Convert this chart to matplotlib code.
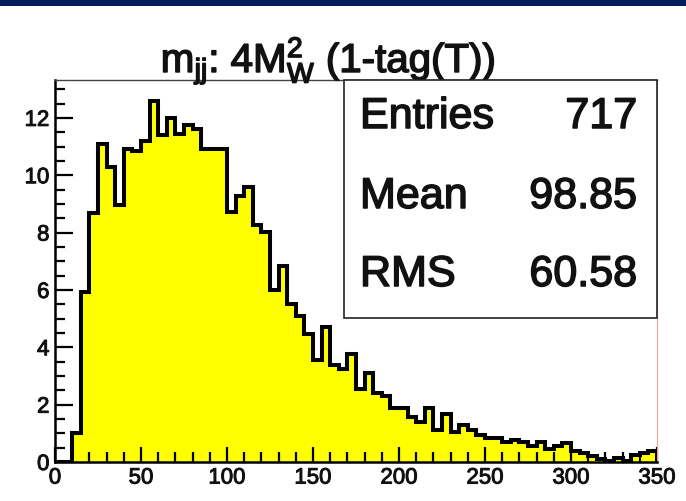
import numpy as np
import matplotlib
matplotlib.use("Agg")
import matplotlib.pyplot as plt
import matplotlib.patheffects as pe
from matplotlib.patches import Rectangle
from matplotlib.ticker import MultipleLocator

plt.rcParams["font.family"] = ["Liberation Sans", "DejaVu Sans"]
plt.rcParams["mathtext.fontset"] = "custom"
plt.rcParams["mathtext.rm"] = "Liberation Sans"
plt.rcParams["mathtext.it"] = "Liberation Sans:italic"
plt.rcParams["mathtext.bf"] = "Liberation Sans:bold"

# m_jj histogram, 70 bins of 5 GeV from 0 to 350
bin_edges = np.linspace(0, 350, 71)
counts = [
    0.00, 0.00, 1.00, 5.93, 8.68, 11.10, 10.30, 8.95, 10.93, 10.83,
    11.18, 12.59, 11.40, 12.00, 11.45, 11.76, 11.60, 10.93, 10.93, 10.93,
    8.72, 9.27, 9.60, 8.26, 8.02, 5.99, 6.83, 5.50, 5.10, 4.45,
    3.56, 4.69, 3.38, 3.26, 3.76, 2.54, 3.12, 2.42, 2.31, 1.87,
    1.87, 1.58, 1.40, 1.90, 1.11, 1.69, 1.06, 1.29, 1.11, 0.94,
    0.85, 0.85, 0.70, 0.75, 0.70, 0.55, 0.70, 0.45, 0.55, 0.65,
    0.38, 0.30, 0.20, 0.10, 0.05, 0.15, 0.05, 0.25, 0.30, 0.40,
]
title = r"m$_{\mathrm{jj}}$: 4M$_{\mathrm{W}}^{\mathrm{2}}$ (1-tag(T))"
stat_names = ["Entries", "Mean", "RMS"]
stat_values = ["717", "98.85", "60.58"]
x_ticks = [0, 50, 100, 150, 200, 250, 300, 350]
y_ticks = [0, 2, 4, 6, 8, 10, 12]

W, H = 686, 501
fig = plt.figure(figsize=(W / 100, H / 100), dpi=100)
fig.patch.set_facecolor("white")

def fx(px):
    return px / W

def fy(py):
    return 1 - py / H

ink = "#111111"
heavy = [pe.withStroke(linewidth=1.1, foreground=ink)]
heavy_small = [pe.withStroke(linewidth=0.7, foreground=ink)]

# navy header strip
navy = "#001c5a"
fig.add_artist(Rectangle((0, fy(6)), 1, 6 / H, transform=fig.transFigure,
                         facecolor=navy, edgecolor="none"))

ax_l, ax_r, ax_t, ax_b = 55, 657, 80, 462
ax = fig.add_axes([fx(ax_l), fy(ax_b), fx(ax_r - ax_l), (ax_b - ax_t) / H])
ax.set_xlim(0, 350)
ax.set_ylim(0, 13.32)

ax.stairs(counts, bin_edges, fill=True, facecolor="#ffff00", edgecolor="none", zorder=1)
ax.stairs(counts, bin_edges, baseline=0, color="black", linewidth=2.9, zorder=1.5)

ax.set_xticks(x_ticks)
ax.set_yticks(y_ticks)
ax.xaxis.set_minor_locator(MultipleLocator(10))
ax.yaxis.set_minor_locator(MultipleLocator(0.5))
ax.tick_params(axis="both", which="both", direction="in", color="black",
               top=False, right=False)
ax.tick_params(axis="x", which="major", length=11, width=1.6, pad=4)
ax.tick_params(axis="x", which="minor", length=7, width=1.6)
ax.tick_params(axis="y", which="major", length=13, width=1.6, pad=4)
ax.tick_params(axis="y", which="minor", length=7.5, width=1.6)
for lab in ax.get_xticklabels() + ax.get_yticklabels():
    lab.set_fontsize(16)
    lab.set_color(ink)
    lab.set_path_effects(heavy_small)

ax.spines["left"].set_linewidth(1.8)
ax.spines["bottom"].set_linewidth(1.8)
ax.spines["top"].set_linewidth(1.0)
ax.spines["top"].set_color("#444444")
ax.spines["right"].set_linewidth(0.8)
ax.spines["right"].set_color("#f2a0a0")

# title
fig.text(fx(328), fy(72), title, ha="center", va="baseline", fontsize=29,
         color=ink, path_effects=heavy)

# statistics box
bx0, bx1, by0, by1 = 344, 657, 80, 318
fig.add_artist(Rectangle((fx(bx0), fy(by1)), fx(bx1 - bx0), (by1 - by0) / H,
                         transform=fig.transFigure, facecolor="white",
                         edgecolor="#222222", linewidth=1.2, zorder=5))
rows_y = [117, 197, 275]
for name, val, ry in zip(stat_names, stat_values, rows_y):
    fig.text(fx(360), fy(ry), name, ha="left", va="center", fontsize=31,
             color=ink, zorder=6, path_effects=heavy)
    fig.text(fx(637), fy(ry), val, ha="right", va="center", fontsize=31,
             color=ink, zorder=6, path_effects=heavy)

fig.savefig("out.png", dpi=100)
